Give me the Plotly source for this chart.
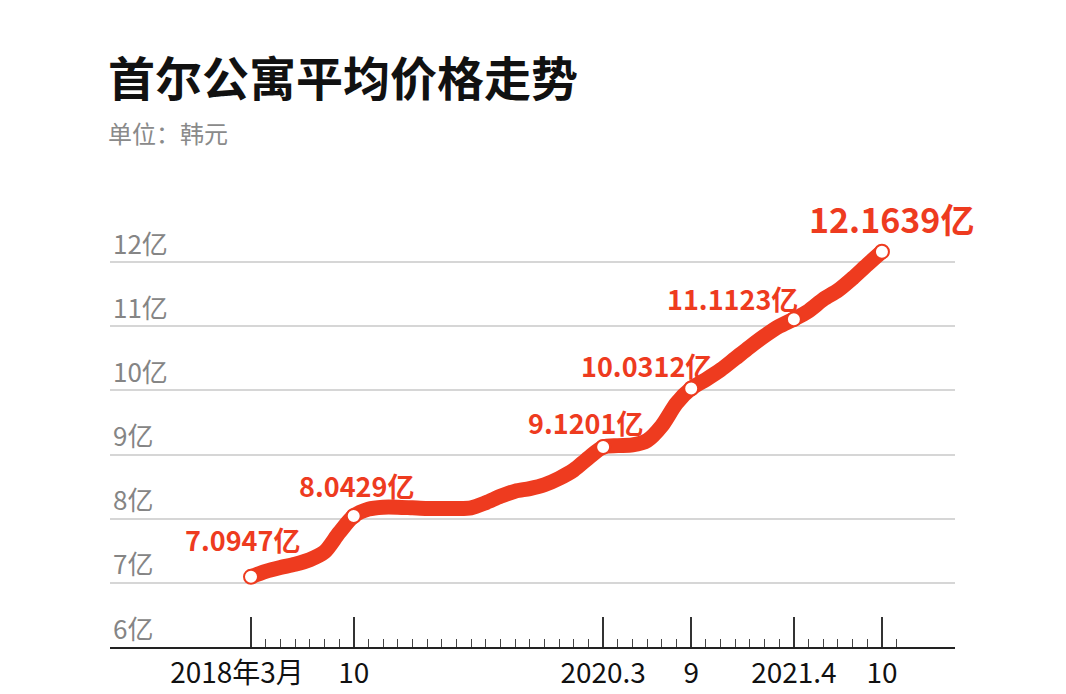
import plotly.graph_objects as go

# Monthly index: 0 = 2018年3月 ... 43 = 2021年10月
months = list(range(44))
prices = [7.0947, 7.18, 7.24, 7.29, 7.36, 7.48, 7.78, 8.0429, 8.15, 8.18,
          8.18, 8.17, 8.16, 8.16, 8.16, 8.17, 8.25, 8.35, 8.43, 8.47,
          8.53, 8.63, 8.76, 8.95, 9.1201, 9.14, 9.15, 9.22, 9.45, 9.80,
          10.0312, 10.17, 10.32, 10.50, 10.68, 10.85, 11.00, 11.1123, 11.24, 11.42,
          11.56, 11.75, 11.96, 12.1639]

key_months = [0, 7, 24, 30, 37, 43]
key_prices = [7.0947, 8.0429, 9.1201, 10.0312, 11.1123, 12.1639]
key_labels = ["7.0947亿", "8.0429亿", "9.1201亿", "10.0312亿", "11.1123亿", "12.1639亿"]

tick_months = [0, 7, 24, 30, 37, 43]
tick_labels = ["2018年3月\u2003", "10", "2020.3", "9", "2021.4", "10"]
minor_months = list(range(0, 45))

y_ticks = [6, 7, 8, 9, 10, 11, 12]
y_labels = ["6亿", "7亿", "8亿", "9亿", "10亿", "11亿", "12亿"]

RED = "#ee3b1f"
FONT = "Noto Sans CJK SC"

fig = go.Figure()
fig.add_trace(go.Scatter(
    x=months, y=prices, mode="lines",
    line=dict(color=RED, width=15, shape="spline", smoothing=0.8),
    hoverinfo="skip", showlegend=False,
))
fig.add_trace(go.Scatter(
    x=key_months, y=key_prices, mode="markers",
    marker=dict(size=14, color="white", line=dict(color=RED, width=2)),
    showlegend=False,
))

# label offsets (pixels) relative to markers
label_dx = [-9, 3, -18, -45, -61, 10]
label_dy = [37, 30, 24, 23, 21, 33]
label_size = [27, 27, 27, 27, 27, 34]
for xm, yv, txt, dx, dy, fs in zip(key_months, key_prices, key_labels, label_dx, label_dy, label_size):
    fig.add_annotation(x=xm, y=yv, text=f"<b>{txt}</b>", showarrow=False,
                       xanchor="center", yanchor="middle", xshift=dx, yshift=dy,
                       font=dict(family=FONT, size=fs, color=RED))

for yv, txt in zip(y_ticks, y_labels):
    fig.add_annotation(x=0, xref="paper", y=yv, yref="y", text=txt, showarrow=False,
                       xanchor="left", yanchor="middle", xshift=1, yshift=20,
                       font=dict(family=FONT, size=26, color="#858585"))

fig.add_annotation(x=0, xref="paper", y=1, yref="paper", text="<b>首尔公寓平均价格走势</b>",
                   showarrow=False, xanchor="left", yanchor="middle", xshift=-4, yshift=192 - 67,
                   font=dict(family=FONT, size=47, color="#111111"))
fig.add_annotation(x=0, xref="paper", y=1, yref="paper", text="单位：韩元",
                   showarrow=False, xanchor="left", yanchor="middle", xshift=-4, yshift=192 - 124,
                   font=dict(family=FONT, size=24, color="#8a8a8a"))

fig.update_layout(
    width=1066, height=694,
    margin=dict(l=102, r=119, t=192, b=55),
    paper_bgcolor="white", plot_bgcolor="white",
    font=dict(family=FONT),
    xaxis=dict(
        range=[-9.61, 47.98], showgrid=False, zeroline=False,
        showline=True, linecolor="#222222", linewidth=2,
        ticks="inside", ticklen=30, tickwidth=1.5, tickcolor="#333333",
        tickmode="array", tickvals=tick_months, ticktext=tick_labels,
        tickfont=dict(family=FONT, size=28, color="#111111"),
        minor=dict(ticks="inside", ticklen=8, tickwidth=1.2, tickcolor="#444444",
                   tickmode="array", tickvals=minor_months),
        fixedrange=True,
    ),
    yaxis=dict(
        range=[6, 12.97], showgrid=True, gridcolor="#d6d6d6", gridwidth=2,
        tickmode="array", tickvals=y_ticks, showticklabels=False,
        zeroline=False, showline=False, ticks="",
    ),
)

fig.write_html("out.html")
